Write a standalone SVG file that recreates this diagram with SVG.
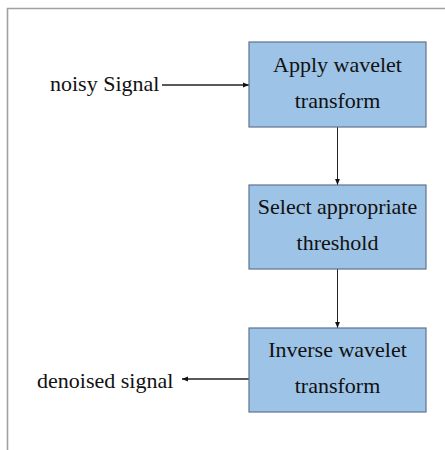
<svg xmlns="http://www.w3.org/2000/svg" width="445" height="450" viewBox="0 0 445 450">
<defs>
<style>
.box{fill:#9dc3e6;stroke:#5f738f;stroke-width:1.2}
.t{font-family:"Liberation Serif","Times New Roman",serif;font-size:22px;fill:#111}
.c{stroke:#222;fill:none}
</style>
<marker id="ah" viewBox="0 0 10 10" refX="10" refY="5" markerWidth="6" markerHeight="6" orient="auto" markerUnits="userSpaceOnUse">
<path d="M0,1 L10,5 L0,9 z" fill="#111"/>
</marker>
</defs>
<rect width="445" height="450" fill="#fff"/>
<path d="M7.5,452 V8.5 H447" fill="none" stroke="#a0a0a0" stroke-width="1.6"/>
<g id="connectors">
<line class="c" x1="162" y1="85" x2="249" y2="85" stroke-width="1.5" marker-end="url(#ah)"/>
<line class="c" x1="337.5" y1="127" x2="337.5" y2="185" stroke-width="1" marker-end="url(#ah)"/>
<line class="c" x1="337.5" y1="269" x2="337.5" y2="328" stroke-width="1" marker-end="url(#ah)"/>
<line class="c" x1="249" y1="379" x2="182" y2="379" stroke-width="1.5" marker-end="url(#ah)"/>
</g>
<g id="n1">
<rect class="box" x="249" y="42" width="177" height="85"/>
<text class="t" x="337.5" y="72" text-anchor="middle">Apply wavelet</text>
<text class="t" x="337.5" y="108" text-anchor="middle">transform</text>
</g>
<g id="n2">
<rect class="box" x="249" y="185" width="177" height="84"/>
<text class="t" x="337.5" y="214" text-anchor="middle">Select appropriate</text>
<text class="t" x="337.5" y="250" text-anchor="middle">threshold</text>
</g>
<g id="n3">
<rect class="box" x="249" y="328" width="177" height="84"/>
<text class="t" x="337.5" y="357" text-anchor="middle">Inverse wavelet</text>
<text class="t" x="337.5" y="393" text-anchor="middle">transform</text>
</g>
<g id="in">
<text class="t" x="50" y="91">noisy Signal</text>
</g>
<g id="out">
<text class="t" x="37" y="388">denoised signal</text>
</g>
</svg>
